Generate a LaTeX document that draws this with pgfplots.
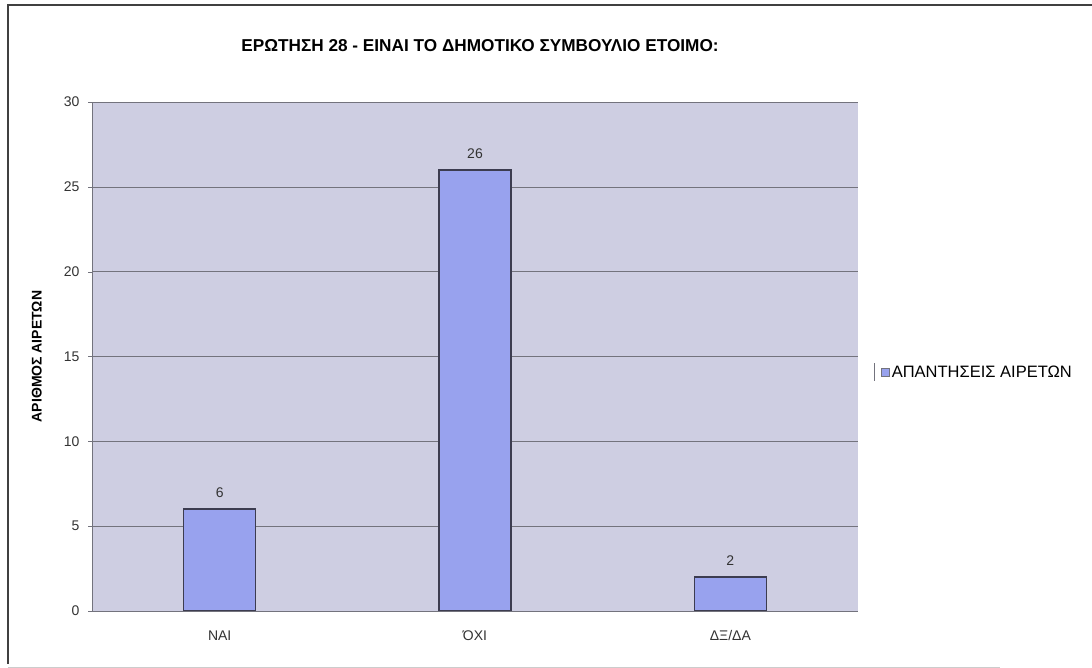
\documentclass[border=0pt]{standalone}
\usepackage{pgfplots}
\pgfplotsset{compat=1.18}
\usepackage{fontspec}
\setmainfont{Liberation Sans}
\definecolor{plotbg}{RGB}{206,206,226}
\definecolor{barfill}{RGB}{152,162,238}
\definecolor{bardraw}{RGB}{60,60,80}
\definecolor{gridc}{RGB}{115,115,125}
\begin{document}
\begin{tikzpicture}[x=1pt,y=1pt]
\path[fill=white] (0,0) rectangle (1092,668);
\draw[line width=1.5pt, black!75] (8,4) -- (8,663) -- (1092,663);
\draw[line width=0.8pt, black!20] (8,1) -- (1000,1);
\node[font=\bfseries\fontsize{17.2}{20}\selectfont] at (480,622) {ΕΡΩΤΗΣΗ 28 - ΕΙΝΑΙ ΤΟ ΔΗΜΟΤΙΚΟ ΣΥΜΒΟΥΛΙΟ ΕΤΟΙΜΟ:};
\begin{axis}[
  at={(92pt,57pt)}, anchor=south west,
  scale only axis, width=766pt, height=509pt,
  ymin=0, ymax=30, ytick={0,5,...,30},
  xmin=-0.5, xmax=2.5,
  xtick=data, xticklabels={ΝΑΙ,ΌΧΙ,ΔΞ/ΔΑ},
  axis background/.style={fill=plotbg},
  ymajorgrids, grid style={gridc, line width=0.6pt},
  axis line style={gridc, line width=0.8pt},
  axis x line*=bottom, axis y line*=left,
  x axis line style={-}, y axis line style={-},
  xtick style={draw=none},
  ytick style={gridc}, tick align=outside, major tick length=4pt,
  tick label style={font=\fontsize{14}{16}\selectfont, black!80},
  /pgf/number format/assume math mode=true,
  ylabel={\bfseries ΑΡΙΘΜΟΣ ΑΙΡΕΤΩΝ},
  ylabel style={font=\fontsize{14}{16}\selectfont, at={(axis description cs:-0.072,0.5)}, anchor=center},
  yticklabel style={xshift=-5pt},
  xticklabel style={yshift=-12pt},
  ybar, bar width=72pt,
  nodes near coords,
  nodes near coords style={font=\fontsize{14}{16}\selectfont, black!80, yshift=7pt},
  legend style={at={(axis description cs:1.0287,0.4695)}, anchor=west, draw=none, fill=none,
    font=\fontsize{16.5}{18}\selectfont, legend cell align=left, inner sep=1pt},
  legend image code/.code={\draw[#1, draw=gridc, line width=0.6pt] (0pt,-4pt) rectangle (8pt,4pt);},
]
\addplot[fill=barfill, draw=bardraw, line width=1.5pt] coordinates {(0,6) (1,26) (2,2)};
\addlegendentry{ΑΠΑΝΤΗΣΕΙΣ ΑΙΡΕΤΩΝ}
\end{axis}
\draw[gridc, line width=0.8pt] (874,287) -- (874,305);
\pgfresetboundingbox
\useasboundingbox (0,0) rectangle (1092,668);
\end{tikzpicture}
\end{document}
